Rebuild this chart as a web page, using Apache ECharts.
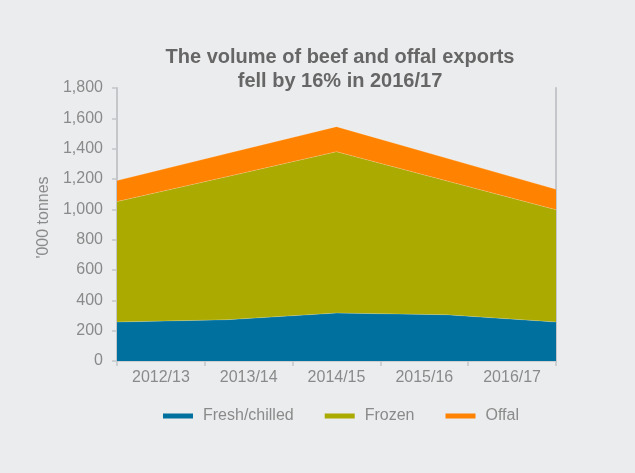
<!DOCTYPE html>
<html>
<head>
<meta charset="utf-8">
<script src="https://cdn.jsdelivr.net/npm/echarts@6/dist/echarts.min.js"></script>
<style>
  html, body { margin: 0; padding: 0; background: #ebecee; }
  #chart { width: 635px; height: 473px; }
</style>
</head>
<body>
<div id="chart"></div>
<script>
// Beef and offal export volumes ('000 tonnes), by financial year
const years = ['2012/13', '2013/14', '2014/15', '2015/16', '2016/17'];
const freshChilled = [257, 272, 316, 305, 257];
const frozen = [794, 943, 1064, 883, 740];
const offal = [139, 153, 165, 150, 135];
const seriesNames = ['Fresh/chilled', 'Frozen', 'Offal'];
const yTicks = { min: 0, max: 1800, interval: 200 };

const colors = ['#00709f', '#aaaa00', '#ff8300'];
const font = "'Liberation Sans', Arial, Helvetica, sans-serif";
const axisGrey = '#c4c6c9';
const labelGrey = '#8a8a8a';

const chart = echarts.init(document.getElementById('chart'), null, { renderer: 'canvas' });

function areaSeries(name, data, color) {
  return {
    name: name,
    type: 'line',
    stack: 'total',
    xAxisIndex: 1,
    data: data,
    symbol: 'none',
    smooth: false,
    itemStyle: { color: color },
    lineStyle: { width: 0.6, color: 'rgba(255,255,255,0.35)' },
    areaStyle: { color: color, opacity: 1 },
    emphasis: { disabled: true }
  };
}

chart.setOption({
  backgroundColor: '#ebecee',
  animation: false,
  color: colors,
  title: {
    text: 'The volume of beef and offal exports\nfell by 16% in 2016/17',
    left: 335,
    top: 40,
    textAlign: 'center',
    textStyle: {
      fontFamily: font,
      fontSize: 20,
      fontWeight: 'bold',
      color: '#666666',
      lineHeight: 24
    }
  },
  legend: {
    data: seriesNames,
    left: 158,
    top: 403,
    icon: 'rect',
    itemWidth: 30,
    itemHeight: 5,
    itemGap: 31,
    textStyle: {
      fontFamily: font,
      fontSize: 16,
      color: labelGrey,
      padding: [0, 0, 0, 5]
    }
  },
  grid: { left: 117, right: 79, top: 88, bottom: 112 },
  xAxis: [
    {
      type: 'category',
      data: years,
      boundaryGap: true,
      axisLine: { lineStyle: { color: axisGrey, width: 1.5 } },
      axisTick: { show: true, length: 5, lineStyle: { color: axisGrey, width: 1.5 } },
      axisLabel: { fontFamily: font, fontSize: 16, color: labelGrey, margin: 9 }
    },
    {
      type: 'category',
      data: years,
      boundaryGap: false,
      show: false
    }
  ],
  yAxis: [
    {
      type: 'value',
      min: yTicks.min,
      max: yTicks.max,
      interval: yTicks.interval,
      name: "'000 tonnes",
      nameLocation: 'middle',
      nameGap: 58,
      nameTextStyle: { fontFamily: font, fontSize: 16, color: labelGrey, padding: [0, 0, 0, 14] },
      axisLine: { show: true, lineStyle: { color: axisGrey, width: 2 } },
      axisTick: { show: true, length: 5, lineStyle: { color: axisGrey, width: 1.5 } },
      splitLine: { show: false },
      axisLabel: {
        fontFamily: font,
        fontSize: 16,
        color: labelGrey,
        margin: 14,
        formatter: v => v.toLocaleString('en-US')
      }
    },
    {
      type: 'value',
      position: 'right',
      min: yTicks.min,
      max: yTicks.max,
      interval: yTicks.interval,
      axisLine: { show: true, lineStyle: { color: axisGrey, width: 2 } },
      axisTick: { show: false },
      axisLabel: { show: false },
      splitLine: { show: false }
    }
  ],
  series: [
    areaSeries(seriesNames[0], freshChilled, colors[0]),
    areaSeries(seriesNames[1], frozen, colors[1]),
    areaSeries(seriesNames[2], offal, colors[2])
  ]
});
</script>
</body>
</html>
